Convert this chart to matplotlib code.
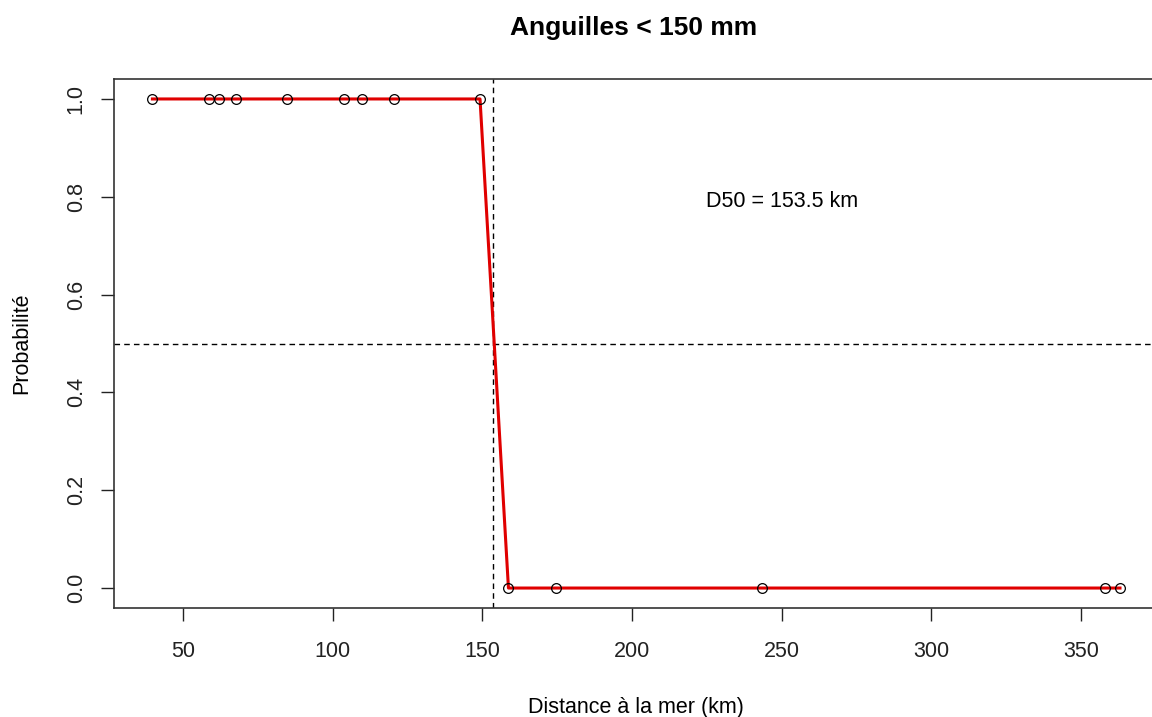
import matplotlib
matplotlib.use("Agg")
import matplotlib.pyplot as plt
import numpy as np

plt.rcParams.update(
    {
        "font.family": ["Liberation Sans", "DejaVu Sans"],
        "font.size": 15.5,
    }
)

# distance to sea (km) and presence (1) / absence (0)
distance = [39.7, 58.5, 61.8, 67.7, 84.8, 103.6, 109.7, 120.6, 149.2,
            158.7, 174.5, 243.3, 358.0, 363.1]
presence = [1, 1, 1, 1, 1, 1, 1, 1, 1, 0, 0, 0, 0, 0]
# fitted probabilities at each distance
fitted = [1, 1, 1, 1, 1, 1, 1, 1, 1, 0, 0, 0, 0, 0]
d50 = 153.5

W, H = 1152, 717
fig = plt.figure(figsize=(W / 100, H / 100), dpi=100)
left, right, top, bottom = 113.7, 1158.7, 79.4, 607.6
ax = fig.add_axes([left / W, 1 - bottom / H, (right - left) / W, (bottom - top) / H])

ax.plot(distance, fitted, color="#e00000", lw=2.2, zorder=2)
ax.plot(distance, presence, "o", mfc="none", mec="black", ms=7, mew=0.9, zorder=3)
ax.axhline(0.5, color="black", lw=1, ls=(0, (4, 3)), zorder=1)
ax.axvline(d50, color="black", lw=1, ls=(0, (4, 3)), zorder=1)
ax.text(250, 0.79, f"D50 = {d50} km", ha="center", va="center", fontsize=15.5)

span = max(distance) - min(distance)
ax.set_xlim(min(distance) - 0.04 * span, max(distance) + 0.04 * span)
ax.set_ylim(-0.04, 1.04)
ax.set_xticks([50, 100, 150, 200, 250, 300, 350])
ax.set_yticks([0.0, 0.2, 0.4, 0.6, 0.8, 1.0])
ax.set_yticklabels(["0.0", "0.2", "0.4", "0.6", "0.8", "1.0"], rotation=90, va="center")
ax.tick_params(length=9.4, width=1, direction="out", colors="#222222")
ax.tick_params(axis="x", pad=15)
ax.tick_params(axis="y", pad=10)

for sp in ax.spines.values():
    sp.set_color("#333333")
    sp.set_linewidth(1.2)

ax.set_xlabel("Distance à la mer (km)", labelpad=25)
ax.set_ylabel("Probabilité", labelpad=24)
fig.text(634 / W, 1 - 28 / H, "Anguilles < 150 mm", ha="center", va="center",
         fontsize=19, fontweight="bold")

fig.savefig("out.png", dpi=100)
